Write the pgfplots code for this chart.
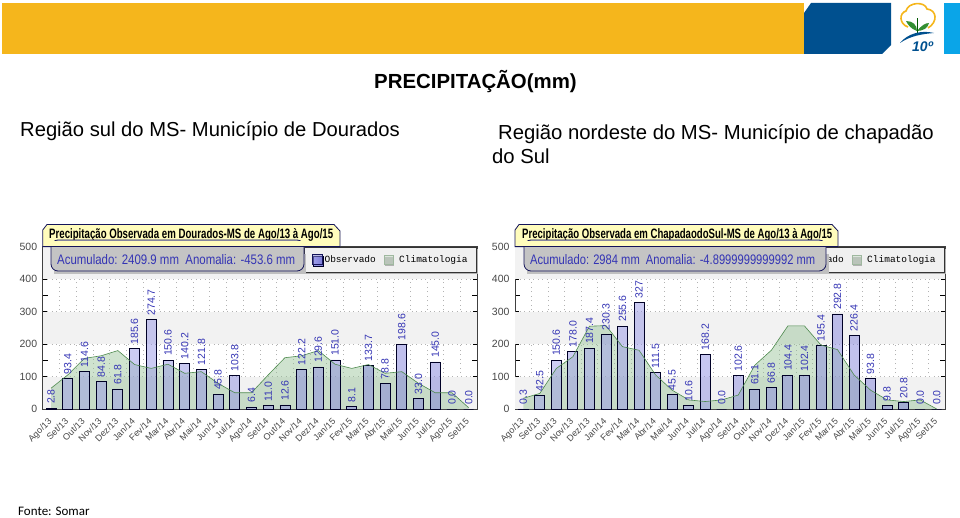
\documentclass[border=0pt]{standalone}
\usepackage{fontspec}
\setmainfont{Liberation Sans}
\setmonofont{Liberation Mono}
\newfontfamily\calibri{Carlito}
\usepackage{pgfplots}
\usepackage{pgfplotstable}
\pgfplotsset{compat=1.18}
\usetikzlibrary{shadows}
\definecolor{gold}{HTML}{F5B61C}
\definecolor{navy}{HTML}{00508F}
\definecolor{sky}{HTML}{0AA5E8}
\definecolor{lblue}{HTML}{3434B4}
\definecolor{barleft}{HTML}{A0A0EC}
\definecolor{barmid}{HTML}{D4D4FF}
\definecolor{barright}{HTML}{7C7CD8}
\definecolor{clim}{HTML}{94C094}
\definecolor{climline}{HTML}{4E8A4E}
\definecolor{hdr}{HTML}{FFFCBC}
\definecolor{bord}{HTML}{14145A}

\pgfplotstableread{
x obs clim lab
0 2.8 64 2.8
1 93.4 105 93.4
2 114.6 156 114.6
3 84.8 164 84.8
4 61.8 180 61.8
5 185.6 137 185.6
6 274.7 125 274.7
7 150.6 138 150.6
8 140.2 110 140.2
9 121.8 115 121.8
10 45.8 79 45.8
11 103.8 50 103.8
12 6.4 50 6.4
13 11.0 105 11.0
14 12.6 158 12.6
15 122.2 164 122.2
16 129.6 180 129.6
17 151.0 138 151.0
18 8.1 125 8.1
19 133.7 137 133.7
20 78.8 110 78.8
21 198.6 115 198.6
22 33.0 79 33.0
23 145.0 50 145.0
24 0.0 50 0.0
25 0.0 4 0.0
}\dourados

\pgfplotstableread{
x obs clim lab
0 0.3 33 0.3
1 42.5 48 42.5
2 150.6 125 150.6
3 178.0 161 178.0
4 187.4 255 187.4
5 230.3 257 230.3
6 255.6 192 255.6
7 327 181 327
8 111.5 105 111.5
9 45.5 58 45.5
10 10.6 28 10.6
11 168.2 23 168.2
12 0.0 28 0.0
13 102.6 43 102.6
14 61.1 135 61.1
15 66.8 181 66.8
16 104.4 256 104.4
17 102.4 256 102.4
18 195.4 197 195.4
19 292.8 183 292.8
20 226.4 105 226.4
21 93.8 58 93.8
22 9.8 28 9.8
23 20.8 23 20.8
24 0.0 28 0.0
25 0.0 0 0.0
}\chapadao

\pgfplotsset{
  painel/.style={
    scale only axis,
    height=162.3pt,
    xmin=-0.5, xmax=25.5,
    ymin=0, ymax=500,
    xtick={0,...,25},
    xticklabels={Ago/13,Set/13,Out/13,Nov/13,Dez/13,Jan/14,Fev/14,Mar/14,Abr/14,Mai/14,Jun/14,Jul/14,Ago/14,Set/14,Out/14,Nov/14,Dez/14,Jan/15,Fev/15,Mar/15,Abr/15,Mai/15,Jun/15,Jul/15,Ago/15,Set/15},
    minor xtick={-0.5,0.5,...,25.5},
    ytick={0,100,...,500},
    minor ytick={50,150,...,450},
    /pgf/number format/assume math mode=true,
    tick label style={text=black!72},
    yticklabel style={font=\fontsize{10.5}{11}\selectfont, xshift=-2pt},
    xticklabel style={font=\fontsize{9}{10}\selectfont, rotate=45, anchor=north east, xshift=-5pt, yshift=0pt},
    major x tick style={draw=none},
    minor x tick style={draw=black, line width=0.8pt},
    y tick style={draw=black, line width=0.6pt},
    minor tick length=5pt, major tick length=4pt,
    tick align=inside,
    ymajorgrids, xminorgrids,
    grid style={black!30, line width=0.5pt, dash pattern=on 1pt off 3.5pt},
    minor grid style={black!30, line width=0.5pt, dash pattern=on 1pt off 3.5pt},
    axis line style={black!75, line width=0.8pt},
    reverse legend,
    legend style={at={(1,1)}, anchor=north east, draw=black!80, line width=0.8pt,
      fill=black!6, legend columns=2, inner xsep=7pt, inner ysep=6.5pt,
      font=\ttfamily\fontsize{9.5}{11}\selectfont,
      /tikz/every even column/.style={column sep=6pt},
      drop shadow={shadow xshift=1pt, shadow yshift=-2pt, fill=black!30, opacity=1}},
    legend cell align=left,
  },
  barra/.style={ybar, bar width=10pt, bar shift=0pt, draw=black!85!blue, line width=0.8pt,
    fill opacity=0.5, draw opacity=1,
    left color=barleft, middle color=barmid, right color=barright,
    legend image code/.code={\draw[draw=bord, line width=0.8pt] (0pt,-5pt) rectangle (10pt,5pt);}},
  area clim/.style={fill=clim, fill opacity=0.45, draw=none,
    legend image code/.code={\draw[draw=clim!80!black!70, line width=0.6pt, fill=clim!55!white] (0pt,-4.5pt) rectangle (9pt,4.5pt); \path (13pt,0pt);}},
  linha clim/.style={draw=climline, line width=0.6pt, mark=none, forget plot},
  rotulos/.style={draw=none, mark=none, forget plot, point meta=explicit symbolic,
    nodes near coords,
    every node near coord/.style={rotate=90, anchor=west, text=lblue, inner sep=0pt, xshift=4pt, yshift=0pt,
      font=\fontsize{10.5}{11}\selectfont}},
}

\newcommand{\bandas}{%
  \fill[black!5] (axis cs:-0.5,0) rectangle (axis cs:25.5,100);
  \fill[black!5] (axis cs:-0.5,200) rectangle (axis cs:25.5,300);
  \fill[black!5] (axis cs:-0.5,400) rectangle (axis cs:25.5,500);
}

\begin{document}
\begin{tikzpicture}
\path[use as bounding box] (0pt,0pt) rectangle (960pt,517pt);

% faixa do topo e textos
\begin{scope}[x=1pt,y=-1pt,yshift=517pt]
  \fill[gold] (2,3) rectangle (804,54);
  \fill[navy] (804,13) -- (811,3) -- (891,3) -- (891,45) -- (882,54) -- (804,54) -- cycle;
  \fill[sky] (944,3) rectangle (960,54);
  % logo
  \draw[gold, line width=1.6pt] (908,27) .. controls (899,24) and (899,13) .. (906,11)
     .. controls (908,2) and (925,1) .. (927,9) .. controls (937,10) and (938,22) .. (928,28);
  \fill[green!45!black!80] (917,31) .. controls (911,29) and (908,25) .. (906,21) .. controls (913,21) and (917,25) .. (917,31);
  \fill[green!45!black!80] (917,31) .. controls (921,26) and (925,23) .. (929,23) .. controls (928,28) and (923,31) .. (917,31);
  \draw[green!35!black, line width=0.8pt] (917,35) -- (917,18);
  \fill[navy] (900,43) .. controls (908,33) and (922,30) .. (934,33) .. controls (922,34) and (910,36) .. (900,43);
  \node[anchor=base west, inner sep=0pt, text=navy] at (912,52) {\fontsize{14}{14}\selectfont\bfseries\itshape 10º};

  \node[anchor=base west, inner sep=0pt] at (374,89) {\fontsize{20.4}{22}\selectfont\bfseries PRECIPITAÇÃO(mm)};
  \node[anchor=base west, inner sep=0pt] at (20,137) {\fontsize{20.2}{22}\selectfont Região sul do MS- Município de Dourados};
  \node[anchor=base west, inner sep=0pt] at (498,140) {\fontsize{20.3}{22}\selectfont Região nordeste do MS- Município de chapadão};
  \node[anchor=base west, inner sep=0pt] at (492,164) {\fontsize{20.3}{22}\selectfont do Sul};
  \node[anchor=base west, inner sep=0pt] at (18,515) {\calibri\fontsize{13}{14}\selectfont Fonte: Somar};
\end{scope}

\begin{axis}[painel, at={(42.7pt,108pt)}, anchor=south west, width=434.3pt]
  \bandas
  \addplot[area clim] table[x=x, y=clim] {\dourados} \closedcycle;
  \addlegendentry{Climatologia}
  \addplot[barra] table[x=x, y=obs] {\dourados};
  \addlegendentry{Observado}
  \addplot[linha clim] table[x=x, y=clim] {\dourados};
  \addplot[rotulos] table[x=x, y=obs, meta=lab] {\dourados};
\end{axis}

\begin{axis}[painel, at={(515pt,108pt)}, anchor=south west, width=430pt]
  \bandas
  \addplot[area clim] table[x=x, y=clim] {\chapadao} \closedcycle;
  \addlegendentry{Climatologia}
  \addplot[barra] table[x=x, y=obs] {\chapadao};
  \addlegendentry{Observado}
  \addplot[linha clim] table[x=x, y=clim] {\chapadao};
  \addplot[rotulos] table[x=x, y=obs, meta=lab] {\chapadao};
\end{axis}

% abas de titulo e caixas de acumulado
\begin{scope}[x=1pt,y=-1pt,yshift=517pt]
  \draw[bord, line width=0.8pt, fill=hdr] (42.7,246.7) -- (42.7,230) -- (47,224.5) -- (334,224.5) -- (340,231) -- (340,246.7) -- cycle;
  \node[anchor=base west, inner sep=0pt] at (49,239) {\resizebox{284pt}{10pt}{\bfseries Precipitação Observada em Dourados-MS de Ago/13 à Ago/15}};
  \fill[black!25] (54,254) rectangle (306,274);
  \draw[bord, line width=0.8pt, fill=black!23, rounded corners=7pt] (51,240) rectangle (304,271);
  \draw[bord, line width=0.8pt] (42.7,246.7) -- (340,246.7);
  \fill[hdr] (44,241) rectangle (339,246.2);
  \node[anchor=base west, inner sep=0pt, text=lblue] at (57,265) {\resizebox{238pt}{10pt}{Acumulado: 2409.9 mm\ \ Anomalia: -453.6 mm}};

  \draw[bord, line width=0.8pt, fill=hdr] (515,246.7) -- (515,230) -- (519,224.5) -- (832,224.5) -- (838,231) -- (838,246.7) -- cycle;
  \node[anchor=base west, inner sep=0pt] at (522,239) {\resizebox{310pt}{10pt}{\bfseries Precipitação Observada em ChapadaodoSul-MS de Ago/13 à Ago/15}};
  \fill[black!25] (527,254) rectangle (829,274);
  \draw[bord, line width=0.8pt, fill=black!23, rounded corners=7pt] (524,240) rectangle (826,271);
  \draw[bord, line width=0.8pt] (515,246.7) -- (838,246.7);
  \fill[hdr] (516.5,241) rectangle (837,246.2);
  \node[anchor=base west, inner sep=0pt, text=lblue] at (530,265) {\resizebox{285pt}{10pt}{Acumulado: 2984 mm\ \ Anomalia: -4.8999999999992 mm}};
\end{scope}
\end{tikzpicture}
\end{document}
